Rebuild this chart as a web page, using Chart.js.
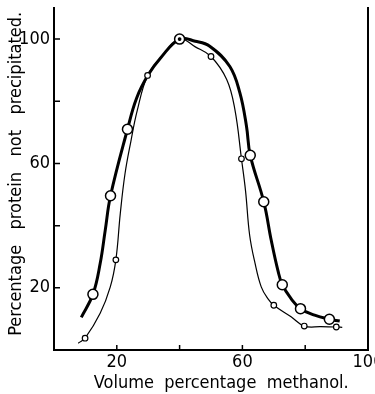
<!DOCTYPE html>
<html>
<head>
<meta charset="utf-8">
<script src="https://cdn.jsdelivr.net/npm/chart.js@4.4.1/dist/chart.umd.min.js"></script>
<style>
  html, body { margin: 0; padding: 0; background: #fff; }
</style>
</head>
<body>
<canvas id="methanolChart" width="375" height="394"></canvas>
<script>
// Measured points (volume % methanol -> % protein not precipitated)
const thickMarkX = [12.4, 18, 23.4, 40, 62.5, 66.8, 72.7, 78.5, 87.7];
const thickMarkY = [17.9, 49.6, 71, 100, 62.6, 47.7, 21, 13.3, 9.9];
const thinMarkX = [9.9, 19.7, 29.8, 40, 50, 59.7, 70, 79.7, 89.9];
const thinMarkY = [3.8, 29, 88.3, 100, 94.4, 61.5, 14.4, 7.7, 7.4];

// Hand-drawn curves
const thickCurveX = [8.7, 12.4, 14.7, 16.3, 18, 23.4, 26.3, 30, 34, 40, 45, 49.6, 56, 59.2, 61.3, 62.5, 66.8, 69.2, 71.3, 72.7, 75.5, 78.5, 83, 87.7, 91];
const thickCurveY = [10.5, 17.9, 27.8, 38.4, 49.6, 71, 81, 88.5, 94, 100, 99.3, 97.7, 91.2, 82.7, 72, 62.6, 47.7, 35.2, 25.6, 21, 16.5, 13.3, 11.2, 9.9, 9.3];
const thinCurveX = [7.7, 9.9, 14.7, 17.9, 19.7, 21.1, 22.6, 24.5, 26.5, 29.8, 34, 40, 45, 50, 55, 57.6, 59.7, 61, 62.3, 64, 66, 68.1, 70, 75.5, 79.7, 85, 89.9, 91.8];
const thinCurveY = [2.2, 3.8, 11.8, 20.2, 29, 43.8, 56.6, 67.2, 77, 88.3, 94, 100, 97.5, 94.4, 87, 77.4, 61.5, 51.2, 37, 28, 20.3, 16.5, 14.4, 10.7, 7.7, 7.5, 7.4, 7.3];

// Tick labels
const xTickLabels = [20, 60, 100];
const yTickLabels = [20, 60, 100];
const yTickValues = [0, 20, 40, 60, 80, 100];

const FONT = "'Liberation Sans Narrow', 'DejaVu Sans Condensed', 'Liberation Sans', sans-serif";

function pts(xs, ys) {
  return xs.map((x, i) => ({ x: x, y: ys[i] }));
}

// small inward tick marks on the left and bottom axes
const innerTicks = {
  id: 'innerTicks',
  afterDraw(chart) {
    const { ctx, chartArea, scales } = chart;
    ctx.save();
    ctx.strokeStyle = '#000';
    ctx.lineWidth = 1.5;
    ctx.beginPath();
    scales.x.ticks.forEach(t => {
      if (t.value <= 0 || t.value >= 100) return;
      const px = scales.x.getPixelForValue(t.value);
      ctx.moveTo(px, chartArea.bottom);
      ctx.lineTo(px, chartArea.bottom - 5);
    });
    scales.y.ticks.forEach(t => {
      if (t.value <= 0) return;
      const py = scales.y.getPixelForValue(t.value);
      ctx.moveTo(chartArea.left, py);
      ctx.lineTo(chartArea.left + 6, py);
    });
    ctx.stroke();
    ctx.restore();
  }
};

const ctx = document.getElementById('methanolChart').getContext('2d');
const methanolChart = new Chart(ctx, {
  type: 'line',
  data: {
    datasets: [
      {
        data: pts(thickMarkX, thickMarkY),
        showLine: false,
        pointRadius: 5,
        pointBorderWidth: 1.5,
        pointBorderColor: '#000',
        pointBackgroundColor: '#fff',
        order: 1
      },
      {
        data: pts(thinMarkX, thinMarkY),
        showLine: false,
        pointRadius: c => (c.raw && c.raw.x === 40) ? 1.3 : 2.8,
        pointBorderWidth: 1.2,
        pointBorderColor: '#000',
        pointBackgroundColor: c => (c.raw && c.raw.x === 40) ? '#000' : '#fff',
        order: 0
      },
      {
        data: pts(thickCurveX, thickCurveY),
        borderColor: '#000',
        borderWidth: 3,
        pointRadius: 0,
        tension: 0.4,
        order: 3
      },
      {
        data: pts(thinCurveX, thinCurveY),
        borderColor: '#000',
        borderWidth: 1.2,
        pointRadius: 0,
        tension: 0.4,
        order: 2
      }
    ]
  },
  options: {
    responsive: false,
    animation: false,
    devicePixelRatio: 1,
    layout: { padding: { top: 8 } },
    plugins: {
      legend: { display: false },
      tooltip: { enabled: false }
    },
    scales: {
      x: {
        type: 'linear',
        min: 0,
        max: 100,
        ticks: {
          stepSize: 20,
          autoSkip: false,
          maxRotation: 0,
          padding: 2,
          color: '#000',
          font: { family: FONT, size: 18 },
          callback: v => xTickLabels.includes(v) ? String(v) : ''
        },
        grid: { drawOnChartArea: false, drawTicks: false },
        border: { color: '#000', width: 2 },
        title: {
          display: true,
          text: '    Volume  percentage  methanol.',
          color: '#000',
          font: { family: FONT, size: 18 },
          padding: { top: 0, bottom: 0 }
        },
        afterFit: s => { s.height = 44; s.paddingLeft = 0; s.paddingRight = 0; }
      },
      y: {
        type: 'linear',
        min: 0,
        max: 110,
        afterBuildTicks: axis => { axis.ticks = yTickValues.map(v => ({ value: v })); },
        ticks: {
          padding: 4,
          color: '#000',
          font: { family: FONT, size: 18 },
          callback: v => yTickLabels.includes(v) ? String(v) : ''
        },
        grid: { drawOnChartArea: false, drawTicks: false },
        border: { color: '#000', width: 2 },
        title: {
          display: true,
          text: '  Percentage   protein   not   precipitated.',
          color: '#000',
          font: { family: FONT, size: 18 },
          padding: { top: 6, bottom: 0 }
        },
        afterFit: s => { s.width = 54; s.paddingTop = 0; s.paddingBottom = 0; }
      },
      y2: {
        type: 'linear',
        position: 'right',
        min: 0,
        max: 110,
        ticks: { display: false },
        grid: { drawOnChartArea: false, drawTicks: false },
        border: { color: '#000', width: 2 },
        afterFit: s => { s.width = 7; }
      }
    }
  },
  plugins: [innerTicks]
});
</script>
</body>
</html>
